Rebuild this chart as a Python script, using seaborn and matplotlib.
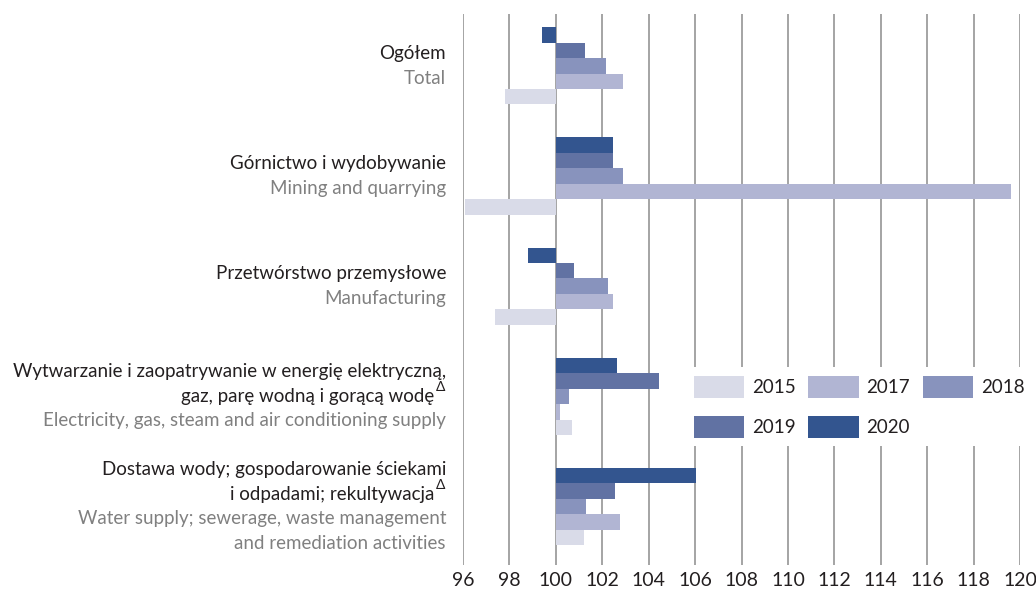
import seaborn as sns
import numpy as np
import matplotlib.pyplot as plt
import pandas as pd
from matplotlib.patches import Patch
from matplotlib.ticker import FuncFormatter

# data (previous year = 100)
categories = ["Ogółem", "Górnictwo", "Przetwórstwo", "Wytwarzanie", "Dostawa"]
years = ["2015", "2017", "2018", "2019", "2020"]
v2015 = [97.8, 96.1, 97.4, 100.7, 101.2]
v2017 = [102.9, 119.6, 102.45, 100.2, 102.75]
v2018 = [102.15, 102.9, 102.25, 100.55, 101.3]
v2019 = [101.25, 102.45, 100.8, 104.45, 102.55]
v2020 = [99.4, 102.45, 98.8, 102.65, 106.05]

labels_pl = [
    ["Ogółem"],
    ["Górnictwo i wydobywanie"],
    ["Przetwórstwo przemysłowe"],
    ["Wytwarzanie i zaopatrywanie w energię elektryczną,", "gaz, parę wodną i gorącą wodę"],
    ["Dostawa wody; gospodarowanie ściekami", "i odpadami; rekultywacja"],
]
labels_en = [
    ["Total"],
    ["Mining and quarrying"],
    ["Manufacturing"],
    ["Electricity, gas, steam and air conditioning supply"],
    ["Water supply; sewerage, waste management", "and remediation activities"],
]
delta = [False, False, False, True, True]

colors = {"2015": "#d9dbe8", "2017": "#b1b5d3", "2018": "#8893bd",
          "2019": "#6172a3", "2020": "#33558f"}

rows = []
for yr, vals in zip(years, [v2015, v2017, v2018, v2019, v2020]):
    for c, v in zip(categories, vals):
        rows.append({"cat": c, "year": yr, "diff": v - 100})
df = pd.DataFrame(rows)

sns.set_style("white")
plt.rcParams["font.family"] = ["Lato", "DejaVu Sans"]

fig = plt.figure(figsize=(10.36, 5.93), dpi=100)
ax = fig.add_axes([463 / 1036, 1 - 565 / 593, (1020 - 463) / 1036, (565 - 14) / 593])

sns.barplot(data=df, x="diff", y="cat", hue="year", order=categories,
            hue_order=["2020", "2019", "2018", "2017", "2015"], palette=colors,
            orient="h", width=0.7, saturation=1, errorbar=None, legend=False,
            linewidth=0, edgecolor="none", ax=ax)

ax.set_xlim(-4, 20)
ax.set_ylim(4.53, -0.47)
ax.set_xticks(np.arange(-4, 21, 2))
ax.xaxis.set_major_formatter(FuncFormatter(lambda v, p: f"{v + 100:.0f}"))
ax.tick_params(axis="x", length=0, pad=5, labelsize=14, labelcolor="#231f20")
ax.set_yticks([])
ax.set_xlabel("")
ax.set_ylabel("")
ax.grid(axis="x", color="#8c8c8c", lw=1.1)
ax.set_axisbelow(True)
for s in ax.spines.values():
    s.set_visible(False)

# category labels
step = 24.5 * 0.72
for i in range(len(categories)):
    lines = [(t, "#231f20") for t in labels_pl[i]] + [(t, "#808080") for t in labels_en[i]]
    n = len(lines)
    for j, (t, col) in enumerate(lines):
        dy = ((n - 1) / 2 - j) * step
        dx = -17 * 0.72
        if delta[i] and j == len(labels_pl[i]) - 1:
            dx = -29 * 0.72
            ax.annotate("Δ", xy=(0, i), xycoords=("axes fraction", "data"),
                        xytext=(dx + 1, dy + 7), textcoords="offset points",
                        ha="left", va="center", fontsize=10, color="#231f20")
        ax.annotate(t, xy=(0, i), xycoords=("axes fraction", "data"),
                    xytext=(dx, dy), textcoords="offset points",
                    ha="right", va="center", fontsize=13.5, color=col)

# legend, row-wise order
order = ["2015", "2019", "2017", "2020", "2018"]
handles = [Patch(facecolor=colors[y], edgecolor="none") for y in order]
leg = ax.legend(handles, order, ncol=3, loc="upper left",
                bbox_to_anchor=(685 / 1036, 1 - 367 / 593), bbox_transform=fig.transFigure,
                borderaxespad=0, borderpad=0.46, frameon=True, fontsize=13.5,
                handlelength=2.67, handleheight=1.44, handletextpad=0.43,
                columnspacing=0.69, labelspacing=0.95)
leg.get_frame().set_facecolor("white")
leg.get_frame().set_edgecolor("none")
leg.get_frame().set_alpha(1)
leg.get_frame().set_boxstyle("square", pad=0)
for t in leg.get_texts():
    t.set_color("#231f20")

fig.savefig("out.png", dpi=100)
